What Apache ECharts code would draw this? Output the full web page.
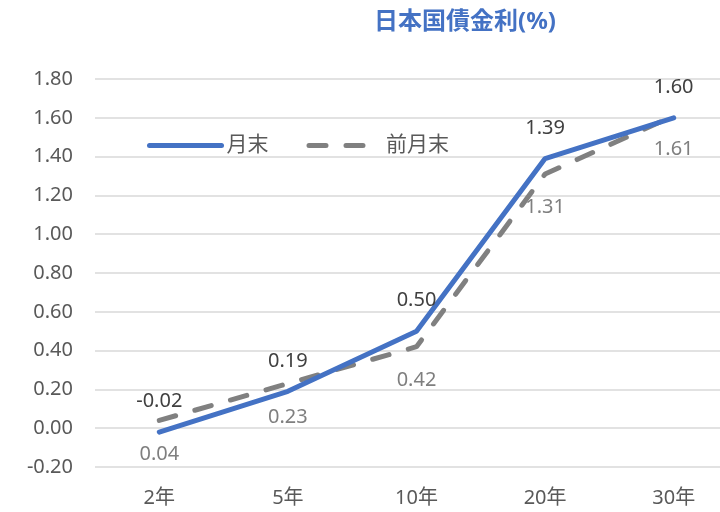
<!DOCTYPE html>
<html>
<head>
<meta charset="utf-8">
<script src="https://cdn.jsdelivr.net/npm/echarts@6/dist/echarts.min.js"></script>
<style>html,body{margin:0;padding:0;background:#fff;}#c{width:720px;height:512px;}</style>
</head>
<body>
<div id="c"></div>
<script>
var categories = ['2年', '5年', '10年', '20年', '30年'];
var monthEnd = [-0.02, 0.19, 0.50, 1.39, 1.60];
var prevMonthEnd = [0.04, 0.23, 0.42, 1.31, 1.61];
var seriesNames = ['月末', '前月末'];
var titleText = '日本国債金利(%)';

var FONT = '"Noto Sans", "Noto Sans CJK JP", sans-serif';
var chart = echarts.init(document.getElementById('c'));
chart.setOption({
  animation: false,
  backgroundColor: '#ffffff',
  title: {
    text: titleText,
    left: 369,
    top: 5,
    textStyle: { color: '#4472C4', fontSize: 24, fontWeight: 'bold', fontFamily: FONT }
  },
  legend: {
    data: seriesNames,
    left: 142,
    top: 130,
    itemWidth: 72,
    itemHeight: 20,
    itemGap: 38,
    itemStyle: { opacity: 0 },
    lineStyle: { width: 5, cap: 'round' },
    textStyle: { color: '#595959', fontSize: 21, fontFamily: FONT }
  },
  grid: { left: 95, top: 79, width: 643, height: 388, containLabel: false, outerBoundsMode: 'none' },
  xAxis: {
    type: 'category',
    data: categories,
    boundaryGap: true,
    axisLine: { show: false },
    axisTick: { show: false },
    axisLabel: { color: '#595959', fontSize: 20, fontFamily: FONT, margin: 21 }
  },
  yAxis: {
    type: 'value',
    min: -0.2,
    max: 1.8,
    interval: 0.2,
    axisLine: { show: false },
    axisTick: { show: false },
    splitLine: { lineStyle: { color: '#D9D9D9', width: 1.5 } },
    axisLabel: {
      color: '#595959', fontSize: 20, fontFamily: FONT, margin: 22,
      formatter: function (v) { return v.toFixed(2); }
    }
  },
  series: [
    {
      name: seriesNames[1],
      type: 'line',
      data: prevMonthEnd,
      symbol: 'circle',
      symbolSize: 1,
      showSymbol: true,
      z: 2,
      lineStyle: { color: '#808080', width: 5, type: [17, 20], cap: 'round' },
      itemStyle: { color: 'rgba(0,0,0,0)' },
      label: {
        show: true, position: 'bottom', distance: 23,
        color: '#7F7F7F', fontSize: 20, fontFamily: FONT,
        formatter: function (p) { return p.value.toFixed(2); }
      }
    },
    {
      name: seriesNames[0],
      type: 'line',
      data: monthEnd,
      symbol: 'circle',
      symbolSize: 1,
      showSymbol: true,
      z: 3,
      lineStyle: { color: '#4472C4', width: 5, cap: 'round' },
      itemStyle: { color: 'rgba(0,0,0,0)' },
      label: {
        show: true, position: 'top', distance: 20,
        color: '#404040', fontSize: 20, fontFamily: FONT,
        formatter: function (p) { return p.value.toFixed(2); }
      }
    }
  ]
});
</script>
</body>
</html>
